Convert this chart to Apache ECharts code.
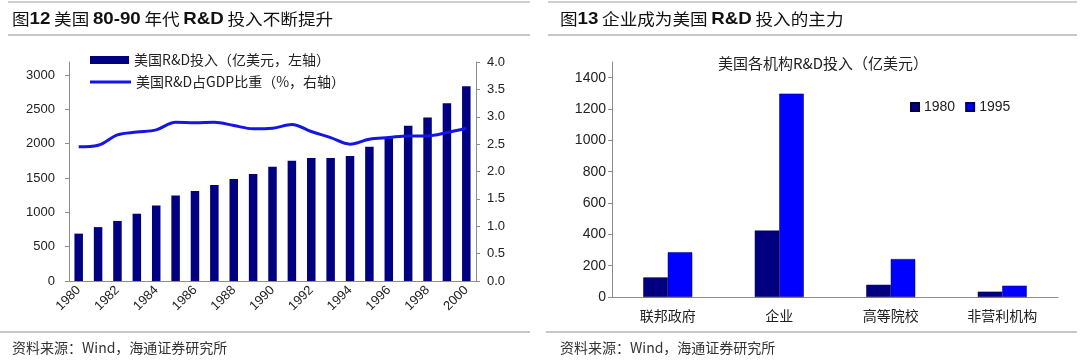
<!DOCTYPE html>
<html>
<head>
<meta charset="utf-8">
<script src="https://cdn.jsdelivr.net/npm/echarts@6/dist/echarts.min.js"></script>
<style>
  html, body { margin: 0; padding: 0; background: #fff; }
  #main { width: 1080px; height: 361px; }
</style>
</head>
<body>
<div id="main"></div>
<script>
// 图12 数据
const years = ['1980', '1981', '1982', '1983', '1984', '1985', '1986', '1987', '1988', '1989', '1990',
               '1991', '1992', '1993', '1994', '1995', '1996', '1997', '1998', '1999', '2000'];
const rdSpend = [690, 785, 875, 980, 1100, 1245, 1310, 1400, 1485, 1560, 1665,
                 1750, 1790, 1790, 1820, 1955, 2080, 2260, 2380, 2590, 2835];
const rdGdpShare = [2.45, 2.48, 2.67, 2.72, 2.76, 2.90, 2.89, 2.90, 2.84, 2.78, 2.79,
                    2.86, 2.73, 2.62, 2.50, 2.59, 2.62, 2.65, 2.65, 2.71, 2.79];

// 图13 数据
const institutions = ['联邦政府', '企业', '高等院校', '非营利机构'];
const rd1980 = [125, 424, 78, 34];
const rd1995 = [286, 1298, 242, 72];

const cjk = '"Noto Sans CJK SC", sans-serif';
const latin = '"Liberation Sans", Arial, sans-serif';
const axisGray = '#8c8c8c';
const textColor = '#222';

function titleText(x, text) {
  return {
    type: 'text', x: x, y: 19, scaleX: 1.1,
    style: {
      text: text, verticalAlign: 'middle', fill: '#111',
      rich: {
        n: { fontSize: 16, fontFamily: cjk, fill: '#111' },
        b: { fontSize: 17, fontFamily: latin, fontWeight: 'bold', fill: '#111' }
      }
    }
  };
}
function hline(x1, x2, y, color) {
  return { type: 'line', shape: { x1: x1, y1: y, x2: x2, y2: y }, style: { stroke: color, lineWidth: 1.2 } };
}
function plain(v) { return String(v); }

const chart = echarts.init(document.getElementById('main'));

chart.setOption({
  animation: false,
  backgroundColor: '#fff',
  graphic: [
    hline(8, 530, 2, '#a0a0a0'),
    hline(548, 1077, 2, '#a0a0a0'),
    hline(8, 530, 35, '#909090'),
    hline(548, 1077, 35, '#909090'),
    hline(0, 530, 332, '#909090'),
    hline(546, 1077, 332, '#909090'),
    titleText(12, '{n|图}{b|12} {n|美国} {b|80-90} {n|年代} {b|R&D} {n|投入不断提升}'),
    titleText(560, '{n|图}{b|13} {n|企业成为美国} {b|R&D} {n|投入的主力}'),
    {
      type: 'text', x: 12, y: 348,
      style: { text: '资料来源：Wind，海通证券研究所', verticalAlign: 'middle', fill: '#333',
               font: '14px ' + cjk }
    },
    {
      type: 'text', x: 560, y: 348,
      style: { text: '资料来源：Wind，海通证券研究所', verticalAlign: 'middle', fill: '#333',
               font: '14px ' + cjk }
    },
    {
      type: 'text', x: 823, y: 63,
      style: { text: '美国各机构R&D投入（亿美元）', align: 'center', verticalAlign: 'middle',
               fill: textColor, font: '15px ' + cjk }
    }
  ],
  legend: [
    {
      data: [{ name: '美国R&D投入（亿美元，左轴）', icon: 'rect' }],
      left: 90, top: 53, itemWidth: 39, itemHeight: 8, padding: 0,
      textStyle: { fontSize: 14, fontFamily: cjk, color: textColor }
    },
    {
      data: [{ name: '美国R&D占GDP比重（%，右轴）', icon: 'rect' }],
      left: 90, top: 75, itemWidth: 41, itemHeight: 3, padding: 0,
      textStyle: { fontSize: 14, fontFamily: cjk, color: textColor }
    },
    {
      data: [{ name: '1980', icon: 'rect' }, { name: '1995', icon: 'rect' }],
      left: 910, top: 100, itemWidth: 8, itemHeight: 8, itemGap: 10, padding: 0,
      textStyle: { fontSize: 14, fontFamily: latin, color: textColor }
    }
  ],
  grid: [
    { left: 69, right: 604, top: 62, bottom: 80 },
    { left: 612, right: 22, top: 62, bottom: 64 }
  ],
  xAxis: [
    {
      type: 'category', gridIndex: 0, data: years, boundaryGap: true,
      axisLine: { lineStyle: { color: axisGray, width: 1 } },
      axisTick: { interval: 1, length: 4, lineStyle: { color: axisGray } },
      axisLabel: { interval: 1, rotate: 45, margin: 7, fontSize: 13, fontFamily: latin, color: textColor }
    },
    {
      type: 'category', gridIndex: 1, data: institutions, boundaryGap: true,
      axisLine: { lineStyle: { color: axisGray, width: 1 } },
      axisTick: { length: 4, lineStyle: { color: axisGray } },
      axisLabel: { margin: 12, fontSize: 14, fontFamily: cjk, color: textColor }
    }
  ],
  yAxis: [
    {
      type: 'value', gridIndex: 0, min: 0, max: 3190, interval: 500,
      axisLine: { show: true, lineStyle: { color: axisGray } },
      axisTick: { show: true, length: 4, lineStyle: { color: axisGray } },
      splitLine: { show: false },
      axisLabel: { showMaxLabel: false, margin: 14, fontSize: 13, fontFamily: latin, color: textColor,
                   formatter: plain }
    },
    {
      type: 'value', gridIndex: 0, position: 'right', min: 0, max: 4, interval: 0.5,
      axisLine: { show: true, lineStyle: { color: axisGray } },
      axisTick: { show: true, length: 4, lineStyle: { color: axisGray } },
      splitLine: { show: false },
      axisLabel: { margin: 11, fontSize: 13, fontFamily: latin, color: textColor,
                   formatter: function (v) { return v.toFixed(1); } }
    },
    {
      type: 'value', gridIndex: 1, min: 0, max: 1500, interval: 200,
      axisLine: { show: true, lineStyle: { color: axisGray } },
      axisTick: { show: true, length: 4, lineStyle: { color: axisGray } },
      splitLine: { show: false },
      axisLabel: { showMaxLabel: false, margin: 6, fontSize: 14, fontFamily: latin, color: textColor,
                   formatter: plain }
    }
  ],
  series: [
    {
      name: '美国R&D投入（亿美元，左轴）', type: 'bar', xAxisIndex: 0, yAxisIndex: 0,
      data: rdSpend, barWidth: 8.5, itemStyle: { color: '#000080' }
    },
    {
      name: '美国R&D占GDP比重（%，右轴）', type: 'line', xAxisIndex: 0, yAxisIndex: 1,
      data: rdGdpShare, smooth: 0.35, showSymbol: false, symbol: 'none', z: 5,
      lineStyle: { color: '#1515E8', width: 3 }, itemStyle: { color: '#1515E8' }
    },
    {
      name: '1980', type: 'bar', xAxisIndex: 1, yAxisIndex: 2,
      data: rd1980, barWidth: 24.5, barGap: '0%',
      itemStyle: { color: '#000080', borderColor: '#000040', borderWidth: 0.5 }
    },
    {
      name: '1995', type: 'bar', xAxisIndex: 1, yAxisIndex: 2,
      data: rd1995, barWidth: 24.5, barGap: '0%',
      itemStyle: { color: '#0000FF', borderColor: '#000060', borderWidth: 0.5 }
    }
  ]
});
</script>
</body>
</html>
